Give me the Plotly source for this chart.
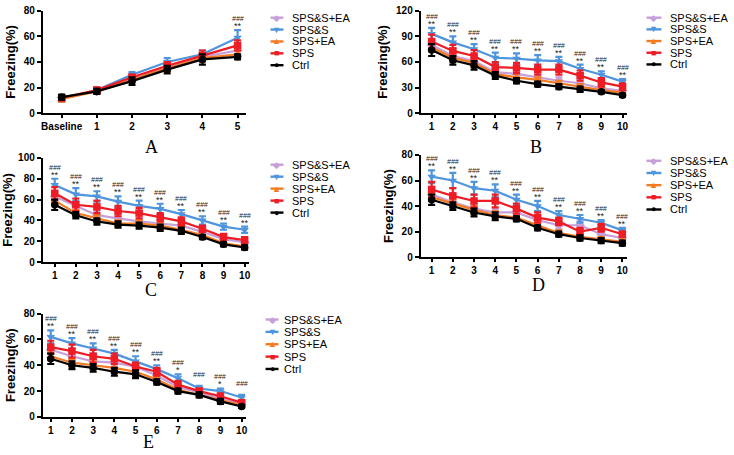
import plotly.graph_objects as go

# ---------------- data ----------------
series_names = ["SPS&S+EA", "SPS&S", "SPS+EA", "SPS", "Ctrl"]
series_colors = ["#c79fd9", "#4f95dd", "#f47a20", "#ee1c25", "#000000"]
series_symbols = ["diamond", "triangle-down", "triangle-up", "square", "circle"]
legend_glyphs = ["◆", "▼", "▲", "■", "●"]

# Panel A
a_labels = ["Baseline", "1", "2", "3", "4", "5"]
a_spss_ea = [12, 17, 27, 36, 44, 49]
a_spss = [11, 18, 30, 40, 46, 59]
a_sps_ea = [11, 17, 26, 35, 43, 46]
a_sps = [12, 18, 28, 37, 45, 53]
a_ctrl = [12.5, 17, 25, 34, 42, 44]
a_err_spss_ea = [2, 2, 2, 3, 3, 3]
a_err_spss = [2, 2, 2, 3, 3, 6]
a_err_sps_ea = [2, 2, 2, 3, 3, 3]
a_err_sps = [2, 2, 2, 3, 4, 4]
a_err_ctrl = [2, 2, 3, 3, 4, 2]
a_hash = ["", "", "", "", "", "###"]
a_star = ["", "", "", "", "", "**"]

days = ["1", "2", "3", "4", "5", "6", "7", "8", "9", "10"]

# Panel B
b_spss_ea = [80, 67, 61, 48, 46, 42, 38, 35, 29, 26]
b_spss = [93, 83, 75, 65, 64, 62, 61, 52, 45, 37]
b_sps_ea = [77, 65, 59, 46, 42, 39, 35, 31, 27, 24]
b_sps = [84, 73, 67, 54, 53, 51, 51, 44, 36, 31]
b_ctrl = [74, 62, 56, 44, 38, 34, 31, 28, 25, 21]
b_err_spss_ea = [5, 5, 5, 4, 4, 4, 4, 4, 3, 3]
b_err_spss = [7, 7, 6, 6, 6, 6, 5, 5, 4, 3]
b_err_sps_ea = [5, 5, 5, 4, 4, 3, 3, 3, 3, 3]
b_err_sps = [8, 7, 7, 6, 6, 6, 6, 6, 5, 4]
b_err_ctrl = [7, 5, 5, 4, 3, 3, 3, 3, 2, 2]
b_hash = ["###"] * 10
b_star = ["**"] * 10

# Panel C
c_spss_ea = [63, 54, 45, 42, 39, 37, 35, 29, 22, 19]
c_spss = [74, 65, 63, 58, 54, 51, 46, 40, 34, 31]
c_sps_ea = [59, 47, 42, 37, 37, 35, 31, 26, 18, 15]
c_sps = [66, 55, 53, 49, 47, 43, 39, 32, 24, 21]
c_ctrl = [55, 45, 39, 36, 35, 33, 30, 24, 17, 14]
c_err_spss_ea = [4, 4, 4, 3, 3, 3, 3, 3, 2, 2]
c_err_spss = [6, 6, 5, 5, 5, 5, 4, 4, 3, 3]
c_err_sps_ea = [4, 3, 3, 3, 3, 3, 3, 3, 2, 2]
c_err_sps = [6, 6, 6, 5, 5, 4, 4, 3, 3, 3]
c_err_ctrl = [5, 3, 3, 3, 3, 3, 3, 2, 2, 2]
c_hash = ["###"] * 10
c_star = ["**"] * 10

# Panel D
d_spss_ea = [49, 43, 38, 35, 35, 29, 25, 25, 18, 15]
d_spss = [63, 60, 54, 52, 45, 40, 33, 30, 27, 21]
d_sps_ea = [47, 42, 37, 33, 31, 25, 19, 16, 14, 12]
d_sps = [53, 48, 44, 44, 38, 31, 28, 20, 23, 18]
d_ctrl = [45, 40, 35, 32, 30, 23, 18, 15, 13, 11]
d_err_spss_ea = [3, 3, 3, 3, 3, 3, 3, 3, 2, 2]
d_err_spss = [5, 6, 5, 5, 4, 4, 3, 3, 2, 2]
d_err_sps_ea = [3, 3, 3, 3, 2, 2, 2, 2, 2, 2]
d_err_sps = [6, 6, 5, 5, 4, 4, 3, 3, 3, 2]
d_err_ctrl = [4, 3, 3, 3, 2, 2, 2, 2, 2, 2]
d_hash = ["###"] * 10
d_star = ["**"] * 10

# Panel E
e_spss_ea = [52, 47, 43, 42, 39, 32, 23, 19, 14, 10]
e_spss = [62, 57, 53, 49, 43, 37, 30, 22, 20, 15]
e_sps_ea = [47, 42, 40, 38, 35, 29, 21, 17, 13, 9]
e_sps = [54, 51, 47, 45, 39, 35, 25, 20, 16, 11]
e_ctrl = [45, 40, 38, 35, 33, 27, 20, 17, 12, 8]
e_err_spss_ea = [3, 3, 3, 3, 3, 2, 2, 2, 2, 2]
e_err_spss = [5, 4, 4, 3, 4, 3, 3, 2, 2, 2]
e_err_sps_ea = [3, 3, 3, 3, 3, 2, 2, 2, 2, 1]
e_err_sps = [5, 5, 5, 4, 3, 3, 3, 2, 2, 2]
e_err_ctrl = [4, 3, 3, 3, 3, 2, 2, 2, 2, 1]
e_hash = ["###"] * 10
e_star = ["**"] * 6 + ["*", "", "*", ""]

# ---------------- layout geometry (pixels) ----------------
W, H = 734, 455

panels = [
    dict(letter="A", labels=a_labels, vals=[a_spss_ea, a_spss, a_sps_ea, a_sps, a_ctrl],
         errs=[a_err_spss_ea, a_err_spss, a_err_sps_ea, a_err_sps, a_err_ctrl],
         hashes=a_hash, stars=a_star,
         xpx=(41, 245), ypx=(110, 5), xr=[-0.537, 5.23], yr=[0, 80], dtick=20,
         letter_pos=(150, 145), leg_line=(270, 283), leg_text=291, leg_top=12, leg_gap=12.2),
    dict(letter="B", labels=days, vals=[b_spss_ea, b_spss, b_sps_ea, b_sps, b_ctrl],
         errs=[b_err_spss_ea, b_err_spss, b_err_sps_ea, b_err_sps, b_err_ctrl],
         hashes=b_hash, stars=b_star,
         xpx=(421, 628), ypx=(110, 5), xr=[0.484, 10.19], yr=[0, 120], dtick=30,
         letter_pos=(537, 145), leg_line=(648, 663), leg_text=671, leg_top=12, leg_gap=12.0),
    dict(letter="C", labels=days, vals=[c_spss_ea, c_spss, c_sps_ea, c_sps, c_ctrl],
         errs=[c_err_spss_ea, c_err_spss, c_err_sps_ea, c_err_sps, c_err_ctrl],
         hashes=c_hash, stars=c_star,
         xpx=(41, 248), ypx=(263, 156), xr=[0.434, 10.19], yr=[0, 100], dtick=20,
         letter_pos=(150, 292), leg_line=(270, 283), leg_text=291, leg_top=163, leg_gap=12.3),
    dict(letter="D", labels=days, vals=[d_spss_ea, d_spss, d_sps_ea, d_sps, d_ctrl],
         errs=[d_err_spss_ea, d_err_spss, d_err_sps_ea, d_err_sps, d_err_ctrl],
         hashes=d_hash, stars=d_star,
         xpx=(421, 628), ypx=(258, 153), xr=[0.484, 10.2], yr=[0, 80], dtick=20,
         letter_pos=(539, 287), leg_line=(648, 663), leg_text=671, leg_top=159, leg_gap=12.5),
    dict(letter="E", labels=days, vals=[e_spss_ea, e_spss, e_sps_ea, e_sps, e_ctrl],
         errs=[e_err_spss_ea, e_err_spss, e_err_sps_ea, e_err_sps, e_err_ctrl],
         hashes=e_hash, stars=e_star,
         xpx=(41, 245), ypx=(422, 316), xr=[0.625, 10.19], yr=[0, 80], dtick=20,
         letter_pos=(147, 448), leg_line=(265, 278), leg_text=283, leg_top=322, leg_gap=12.7),
]

fig = go.Figure()
layout = dict(width=W, height=H, margin=dict(l=0, r=0, t=0, b=0),
              paper_bgcolor="white", plot_bgcolor="white", showlegend=False,
              font=dict(family="Liberation Sans, Arial", color="black"))
annotations = []
shapes = []


def px_x(p):
    return p / W


def px_y(p):
    return 1 - p / H


for k, p in enumerate(panels):
    n = k + 1
    xa = "xaxis" if n == 1 else f"xaxis{n}"
    ya = "yaxis" if n == 1 else f"yaxis{n}"
    xref = "x" if n == 1 else f"x{n}"
    yref = "y" if n == 1 else f"y{n}"
    xs = list(range(len(p["labels"])))
    if p["letter"] != "A":
        xs = [i + 1 for i in xs]
    for s in range(5):
        fig.add_trace(go.Scatter(
            x=xs, y=p["vals"][s], xaxis=xref, yaxis=yref, mode="lines+markers",
            name=series_names[s],
            line=dict(color=series_colors[s], width=2.2),
            marker=dict(symbol=series_symbols[s], size=7.5, color=series_colors[s]),
            error_y=dict(type="data", array=p["errs"][s], color=series_colors[s],
                         thickness=2.2, width=3.5),
            cliponaxis=False))
    layout[xa] = dict(domain=[px_x(p["xpx"][0]), px_x(p["xpx"][1])], range=p["xr"],
                      anchor=yref, tickmode="array", tickvals=xs, ticktext=p["labels"],
                      showline=True, linecolor="black", linewidth=2, ticks="outside",
                      ticklen=3, tickwidth=2, tickcolor="black", showgrid=False, zeroline=False,
                      tickfont=dict(size=10, weight="bold", family="Liberation Sans, Arial"))
    layout[ya] = dict(domain=[px_y(p["ypx"][0]), px_y(p["ypx"][1])], range=p["yr"],
                      anchor=xref, dtick=p["dtick"], showline=True, linecolor="black",
                      linewidth=2, ticks="outside", ticklen=4, tickwidth=2, tickcolor="black",
                      showgrid=False, zeroline=False,
                      tickfont=dict(size=10, weight="bold", family="Liberation Sans, Arial"),
                      title=dict(text="Freezing(%)", standoff=5,
                                 font=dict(size=13, weight="bold", family="Liberation Sans, Arial")))
    # significance marks above SPS&S
    top = [v + e for v, e in zip(p["vals"][1], p["errs"][1])]
    for xi, t, hs, st in zip(xs, top, p["hashes"], p["stars"]):
        if st:
            annotations.append(dict(x=xi, y=t, xref=xref, yref=yref, text=st, showarrow=False,
                                    xanchor="center", yanchor="bottom", yshift=-2, borderpad=0,
                                    font=dict(size=9, color="#222222")))
        if hs:
            annotations.append(dict(x=xi, y=t, xref=xref, yref=yref, text=f"<i>{hs}</i>",
                                    showarrow=False, xanchor="center", yanchor="bottom",
                                    yshift=7, borderpad=0,
                                    font=dict(size=7, color="#222222")))
    # panel letter
    annotations.append(dict(x=px_x(p["letter_pos"][0]), y=px_y(p["letter_pos"][1]),
                            xref="paper", yref="paper", text=p["letter"], showarrow=False,
                            xanchor="center", yanchor="middle",
                            font=dict(size=18, family="Liberation Serif, Times New Roman")))
    # custom legend
    for s in range(5):
        ly = px_y(p["leg_top"] + s * p["leg_gap"])
        shapes.append(dict(type="line", xref="paper", yref="paper",
                           x0=px_x(p["leg_line"][0]), x1=px_x(p["leg_line"][1]), y0=ly, y1=ly,
                           line=dict(color=series_colors[s], width=2.4)))
        annotations.append(dict(x=px_x((p["leg_line"][0] + p["leg_line"][1]) / 2), y=ly,
                                xref="paper", yref="paper", text=legend_glyphs[s],
                                xanchor="center", yanchor="middle", borderpad=0,
                                showarrow=False, font=dict(size=9, color=series_colors[s])))
        annotations.append(dict(x=px_x(p["leg_text"]), y=ly, xref="paper", yref="paper",
                                text=series_names[s], xanchor="left", yanchor="middle",
                                borderpad=0, showarrow=False,
                                font=dict(size=11, color="black")))

layout["annotations"] = annotations
layout["shapes"] = shapes
fig.update_layout(**layout)
fig.write_html("out.html", config={"displayModeBar": False},
               post_script="document.body.style.margin='0px';document.body.style.overflow='hidden';")
